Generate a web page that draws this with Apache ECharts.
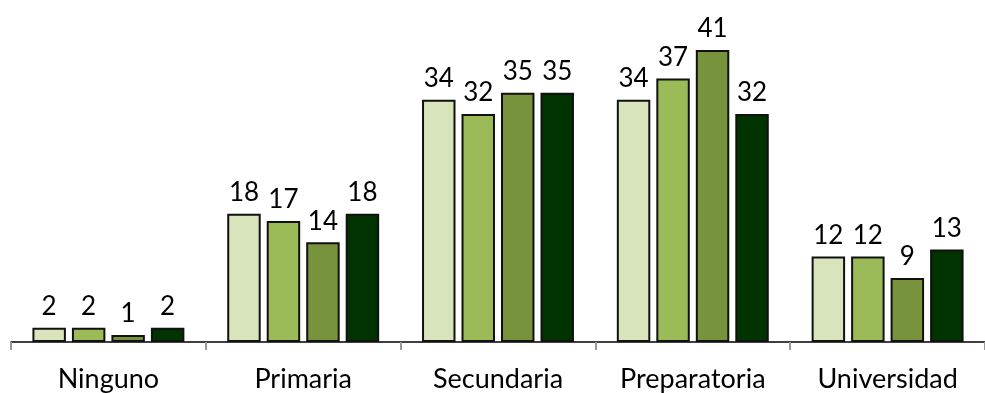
<!DOCTYPE html>
<html><head><meta charset="utf-8">
<script src="https://cdn.jsdelivr.net/npm/echarts@6/dist/echarts.min.js"></script>
<style>html,body{margin:0;padding:0;background:#fff}#c{width:985px;height:393px}</style>
</head><body><div id="c"></div>
<script>
const categories = ["Ninguno", "Primaria", "Secundaria", "Preparatoria", "Universidad"];
const serie1 = [2, 18, 34, 34, 12];
const serie2 = [2, 17, 32, 37, 12];
const serie3 = [1, 14, 35, 41, 9];
const serie4 = [2, 18, 35, 32, 13];
const colors = ["#d8e4bc", "#9bbb59", "#77933c", "#003300"];
const font = "Lato, 'Open Sans', sans-serif";
const chart = echarts.init(document.getElementById('c'));
function s(data, i) {
  return {
    type: 'bar', data: data,
    barGap: '18%', barCategoryGap: '22%',
    itemStyle: { color: colors[i], borderColor: '#111', borderWidth: 2 },
    label: { show: true, position: 'top', distance: 8, color: '#000', fontSize: 26, fontFamily: font }
  };
}
chart.setOption({
  animation: false,
  grid: { left: 11, right: -9, top: 50, bottom: 51 },
  xAxis: {
    type: 'category', data: categories,
    axisLine: { lineStyle: { color: '#000', width: 1.5 } },
    axisTick: { show: true, length: 8, lineStyle: { color: '#999', width: 2 } },
    axisLabel: { color: '#000', fontSize: 27, fontFamily: font, margin: 24 }
  },
  yAxis: { type: 'value', min: 0, max: 41, show: false, splitLine: { show: false } },
  series: [s(serie1, 0), s(serie2, 1), s(serie3, 2), s(serie4, 3)]
});
</script></body></html>
